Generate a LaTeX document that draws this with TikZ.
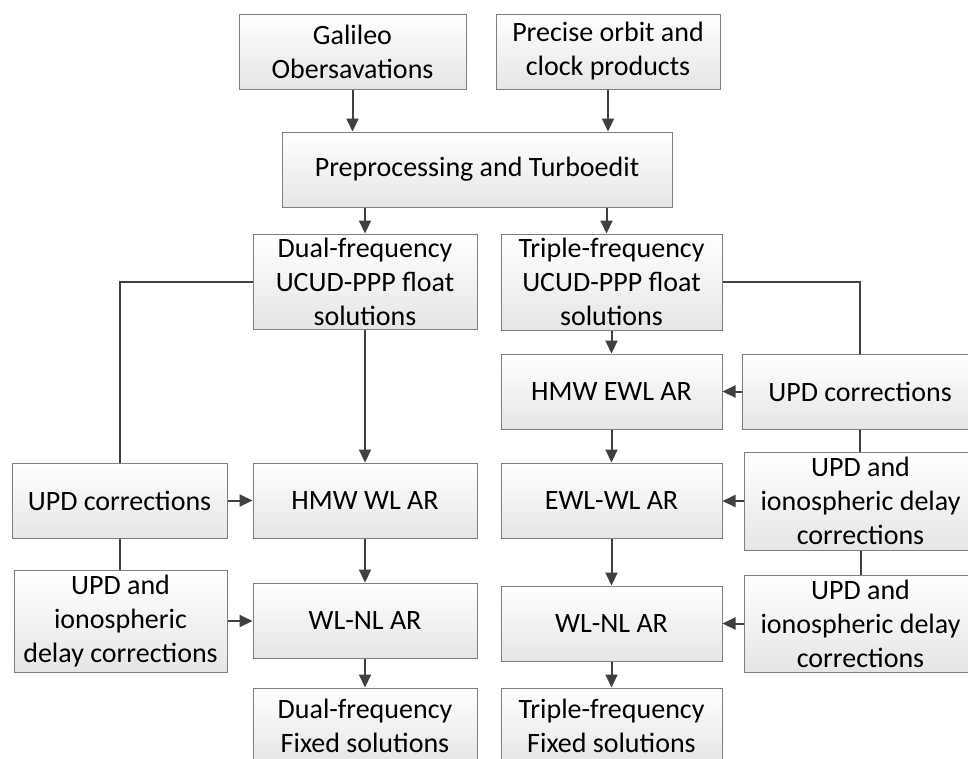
\documentclass[tikz,border=0pt]{standalone}
\usepackage{fontspec}
\setmainfont{Carlito}
\usetikzlibrary{arrows.meta}
\definecolor{boxline}{HTML}{7F7F7F}
\definecolor{arrowgray}{HTML}{404040}
\tikzset{
  box/.style={draw=boxline, line width=1pt, top color=white, bottom color=black!10,
    align=center, inner sep=0pt, minimum height=75pt, minimum width=224pt,
    font=\fontsize{28pt}{34pt}\selectfont},
  flow/.style={-{Triangle[length=13pt,width=12pt]}, draw=arrowgray, line width=2pt},
  link/.style={draw=arrowgray, line width=2pt},
}
\begin{document}
\begin{tikzpicture}[x=1pt, y=-1pt]
    \useasboundingbox (0,0) rectangle (968,758);
    \fill[white] (0,0) rectangle (968,758);
    \clip (0,0) rectangle (968,758);
    % Inputs
    \node[box, minimum width=227pt] (gal) at (352.5,51.5) {Galileo\\Obersavations};
    \node[box] (prec) at (608,51.5) {Precise orbit and\\clock products};
    \node[box, minimum width=390pt] (pre) at (477,169.5) {Preprocessing and Turboedit};
    % Float solutions
    \node[box, minimum height=95pt] (dfl) at (365,281.5) {Dual-frequency\\UCUD-PPP float\\solutions};
    \node[box, minimum width=221pt, minimum height=96pt] (tfl) at (611.5,282) {Triple-frequency\\UCUD-PPP float\\solutions};
    % Dual-frequency branch
    \node[box, minimum width=215pt] (updl) at (119.5,500.5) {UPD corrections};
    \node[box] (hwl) at (365,500.5) {HMW WL AR};
    \node[box, minimum width=213pt, minimum height=102pt] (ionl) at (120.5,621) {UPD and\\ionospheric\\delay corrections};
    \node[box] (wlnl) at (365,620.5) {WL-NL AR};
    \node[box] (dfix) at (365,725.5) {Dual-frequency\\Fixed solutions};
    % Triple-frequency branch
    \node[box, minimum width=221pt] (hewl) at (611.5,391.5) {HMW EWL AR};
    \node[box, minimum width=236pt] (updr) at (860,391.5) {UPD corrections};
    \node[box, minimum width=221pt] (ewl) at (611.5,500.5) {EWL-WL AR};
    \node[box, minimum width=233pt, minimum height=98pt] (ionra) at (860.5,501) {UPD and\\ionospheric delay\\corrections};
    \node[box, minimum width=221pt] (wlnr) at (611.5,623.5) {WL-NL AR};
    \node[box, minimum width=233pt, minimum height=97pt] (ionrb) at (860.5,623.5) {UPD and\\ionospheric delay\\corrections};
    \node[box, minimum width=221pt] (tfix) at (611.5,725.5) {Triple-frequency\\Fixed solutions};
    % Top arrows
    \draw[flow] (gal.south) -- (gal.south |- pre.north);
    \draw[flow] (prec.south) -- (prec.south |- pre.north);
    \draw[flow] (dfl.north |- pre.south) -- (dfl.north);
    \draw[flow] ([xshift=-5pt]tfl.north |- pre.south) -- ([xshift=-5pt]tfl.north);
    % Left column
    \draw[link] (dfl.west) -| (updl.north);
    \draw[link] (updl.south) -- (updl.south |- ionl.north);
    \draw[flow] (updl.east) -- (hwl.west);
    \draw[flow] (ionl.east) -- (ionl.east -| wlnl.west);
    \draw[flow] (dfl.south) -- (hwl.north);
    \draw[flow] (hwl.south) -- (wlnl.north);
    \draw[flow] (wlnl.south) -- (dfix.north);
    % Right column
    \draw[link] (tfl.east) -| (updr.north);
    \draw[link] (updr.south) -- (updr.south |- ionra.north);
    \draw[link] (ionra.south) -- (ionrb.north);
    \draw[flow] (updr.west) -- (hewl.east);
    \draw[flow] (ionra.west) -- (ionra.west -| ewl.east);
    \draw[flow] (ionrb.west) -- (wlnr.east);
    \draw[flow] (tfl.south) -- (hewl.north);
    \draw[flow] (hewl.south) -- (ewl.north);
    \draw[flow] (ewl.south) -- (wlnr.north);
    \draw[flow] (wlnr.south) -- (tfix.north);
\end{tikzpicture}
\end{document}
